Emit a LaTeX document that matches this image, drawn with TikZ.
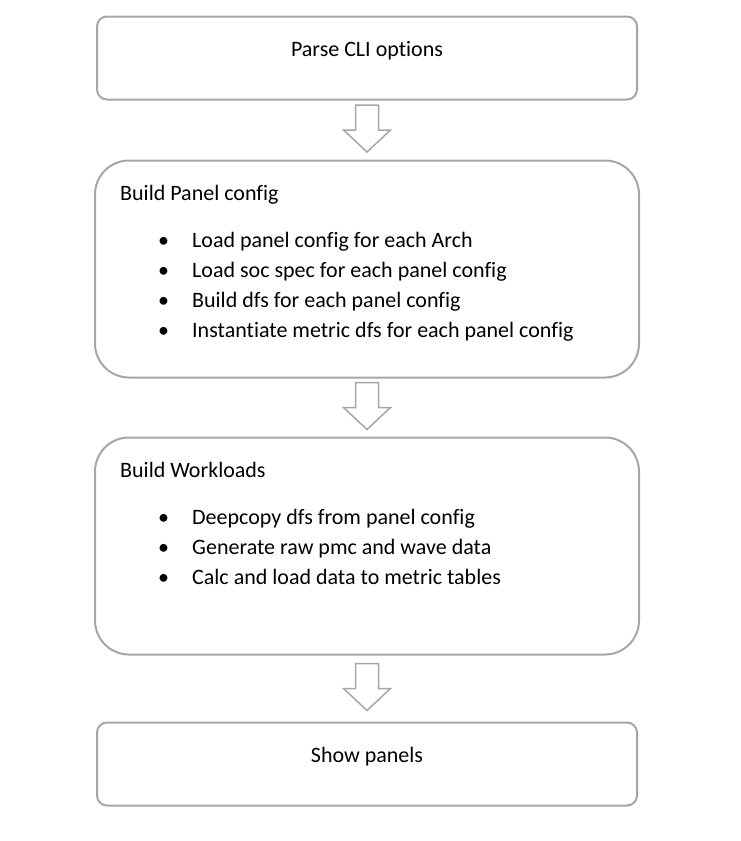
\documentclass[tikz,border=0pt]{standalone}
\usepackage{fontspec}
\setmainfont{Carlito}[Ligatures=NoCommon]
\usepackage{tikz}
\usetikzlibrary{calc, positioning}
\definecolor{BoxGray}{HTML}{A6A6A6}
\definecolor{InkBlack}{HTML}{000000}
\tikzset{%
  step_block/.style={%
    rectangle,%
    draw=BoxGray,%
    line width=2pt,%
    rounded corners=10pt,%
    minimum width=540pt,%
    minimum height=83pt,%
  },
  stage_block/.style={%
    rectangle,%
    draw=BoxGray,%
    line width=2pt,%
    rounded corners=34pt,%
    minimum width=544pt,%
    minimum height=217pt,%
  },
  step_label/.style={%
    anchor=base,%
    inner sep=0pt,%
    color=InkBlack,%
    font={\fontsize{22}{26}\selectfont},%
  },
  stage_title/.style={%
    anchor=base west,%
    inner sep=0pt,%
    color=InkBlack,%
    font={\fontsize{22}{26}\selectfont},%
  },
  stage_item/.style={%
    anchor=base west,%
    inner sep=0pt,%
    color=InkBlack,%
    font={\fontsize{22}{26}\selectfont},%
  },
  hollow_arrow_path/.style={%
    draw=BoxGray,%
    line width=1.5pt,%
    line join=miter,%
    fill=white,%
  },
  pics/hollow_arrow/.style={%
    code={%
      \draw [hollow_arrow_path]
        (-11.5,25) -- (11.5,25) -- (11.5,0) -- (23.5,0)
        -- (0,-22) -- (-23.5,0) -- (-11.5,0) -- cycle;
    }%
  },
}
\newcommand{\itembullet}{\makebox[34pt][l]{\textbullet}}

\begin{document}
\begin{tikzpicture}[x=1pt, y=1pt]
  \useasboundingbox (0,0) rectangle (741,-841);

  \node [step_block] (Parse) at (367,-58) {};
  \node [stage_block, below = 59 of Parse] (Panel) {};
  \node [stage_block, below = 58 of Panel] (Workloads) {};
  \node [step_block, below = 66 of Workloads] (Show) {};

  \node [step_label] (ParseLabel) at ($(Parse.north)+(0,-41)$) {Parse CLI options};
  \node [step_label] (ShowLabel) at ($(Show.north)+(0,-41)$) {Show panels};

  % contents of the two stage boxes
  \node [stage_title] (PanelTitle) at ($(Panel.north west)+(26,-41)$) {Build Panel config};
  \node [stage_item] (PanelItemA) at ($(PanelTitle.base west)+(38,-47)$)
    {\itembullet Load panel config for each Arch};
  \node [stage_item] (PanelItemB) at ($(PanelItemA.base west)+(0,-30)$)
    {\itembullet Load soc spec for each panel config};
  \node [stage_item] (PanelItemC) at ($(PanelItemB.base west)+(0,-30)$)
    {\itembullet Build dfs for each panel config};
  \node [stage_item] (PanelItemD) at ($(PanelItemC.base west)+(0,-30)$)
    {\itembullet Instantiate metric dfs for each panel config};

  \node [stage_title] (WorkloadsTitle) at ($(Workloads.north west)+(26,-41)$) {Build Workloads};
  \node [stage_item] (WorkloadsItemA) at ($(WorkloadsTitle.base west)+(38,-47)$)
    {\itembullet Deepcopy dfs from panel config};
  \node [stage_item] (WorkloadsItemB) at ($(WorkloadsItemA.base west)+(0,-30)$)
    {\itembullet Generate raw pmc and wave data};
  \node [stage_item] (WorkloadsItemC) at ($(WorkloadsItemB.base west)+(0,-30)$)
    {\itembullet Calc and load data to metric tables};

  % arrows between the boxes
  \pic (ArrowA) at ($(Parse.south)!0.5!(Panel.north)$) {hollow_arrow};
  \pic (ArrowB) at ($(Panel.south)!0.5!(Workloads.north)$) {hollow_arrow};
  \pic (ArrowC) at ($(Workloads.south)!0.5!(Show.north)$) {hollow_arrow};
\end{tikzpicture}
\end{document}
